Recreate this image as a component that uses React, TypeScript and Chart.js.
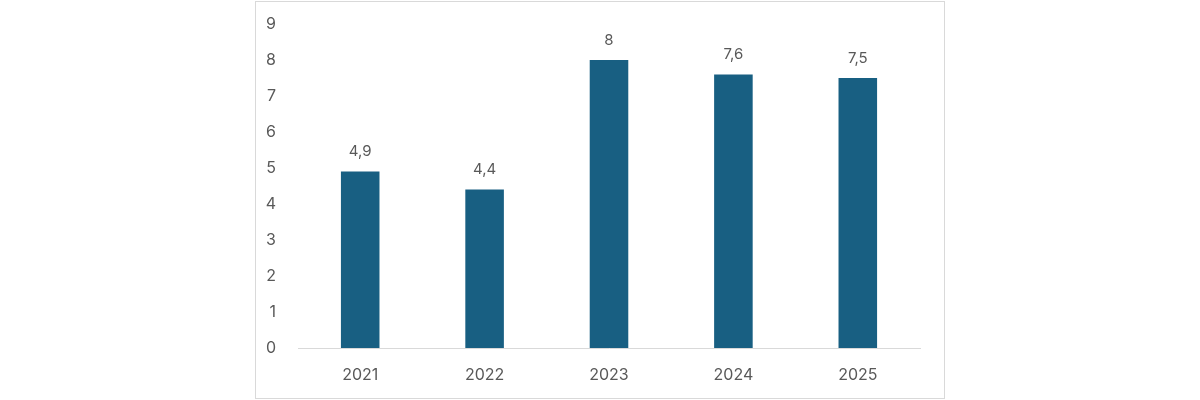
import React, { useEffect, useRef } from "react";
import { Chart, registerables } from "chart.js";

Chart.register(...registerables);

const categories = ["2021", "2022", "2023", "2024", "2025"];
const values = [4.9, 4.4, 8, 7.6, 7.5];
const yTicks = [0, 1, 2, 3, 4, 5, 6, 7, 8, 9];

const FONT = "Inter, 'Open Sans', sans-serif";

const valueLabels = {
  id: "valueLabels",
  afterDatasetsDraw(chart: any) {
    const { ctx } = chart;
    const meta = chart.getDatasetMeta(0);
    ctx.save();
    ctx.font = `15px ${FONT}`;
    ctx.fillStyle = "#595959";
    ctx.textAlign = "center";
    ctx.textBaseline = "middle";
    meta.data.forEach((bar: any, i: number) => {
      const txt = String(values[i]).replace(".", ",");
      ctx.fillText(txt, bar.x, bar.y - 20);
    });
    ctx.restore();
  },
};

export default function App() {
  const ref = useRef<HTMLCanvasElement | null>(null);
  useEffect(() => {
    if (!ref.current) return;
    const chart = new Chart(ref.current, {
      type: "bar",
      data: {
        labels: categories,
        datasets: [
          {
            data: values,
            backgroundColor: "#185F82",
            barPercentage: 0.31,
            categoryPercentage: 1,
          },
        ],
      },
      options: {
        animation: false,
        responsive: false,
        maintainAspectRatio: false,
        layout: { padding: { top: 22, right: 24, bottom: 0, left: 0 } },
        plugins: { legend: { display: false }, tooltip: { enabled: false } },
        scales: {
          x: {
            grid: { display: false, drawTicks: false },
            border: { display: true, color: "#d9d9d9", width: 1 },
            ticks: { color: "#595959", font: { family: FONT, size: 16 }, padding: 18 },
            afterFit: (s: any) => {
              s.height = 50;
              s.paddingLeft = 0;
              s.paddingRight = 0;
            },
          },
          y: {
            min: 0,
            max: 9,
            grid: { display: false, drawTicks: false },
            border: { display: false },
            afterBuildTicks: (s: any) => {
              s.ticks = yTicks.map((v) => ({ value: v }));
            },
            ticks: { color: "#595959", font: { family: FONT, size: 16 }, padding: 22 },
            afterFit: (s: any) => {
              s.width = 42;
              s.paddingTop = 0;
              s.paddingBottom = 0;
            },
          },
        },
      },
      plugins: [valueLabels],
    });
    return () => chart.destroy();
  }, []);
  return (
    <div style={{ position: "fixed", left: 0, top: 0, width: 1200, height: 400, background: "#fff" }}>
      <div
        style={{
          position: "absolute",
          left: 255,
          top: 1,
          width: 688,
          height: 396,
          border: "1px solid #d9d9d9",
          background: "#fff",
        }}
      >
        <canvas ref={ref} width={688} height={396} style={{ display: "block" }} />
      </div>
    </div>
  );
}
